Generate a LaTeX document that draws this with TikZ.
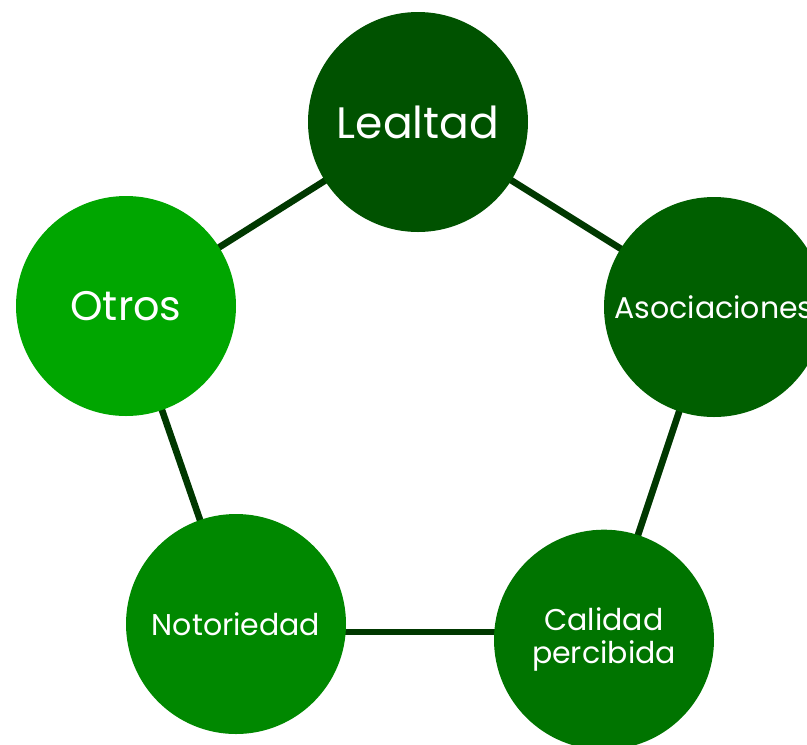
\documentclass[tikz,border=0pt]{standalone}
\usepackage{fontspec}
\setmainfont{Poppins}
\definecolor{lealgreen}{HTML}{005200}
\definecolor{asocgreen}{HTML}{005F00}
\definecolor{calgreen}{HTML}{007400}
\definecolor{notgreen}{HTML}{008800}
\definecolor{otrosgreen}{HTML}{00A600}
\definecolor{linkgreen}{HTML}{003800}
\tikzset{
    every node/.style={transform shape},
    bubble/.style={circle, inner sep=0pt, minimum size=165pt, text=white,
        align=center, font=\fontsize{22.5}{25}\selectfont},
    link/.style={draw=linkgreen, line width=5pt},
}

\begin{document}
\begin{tikzpicture}[x=0.75pt, y=-0.75pt]
                \useasboundingbox (0, 0) rectangle (807, 744);
                \coordinate (lealpos) at (418, 122);
                \coordinate (asocpos) at (714, 307);
                \coordinate (calpos) at (604, 637);
                \coordinate (notpos) at (236, 624);
                \coordinate (otrospos) at (126, 306);
                \coordinate (baseline) at (0, 632);
                \draw[link] (notpos) -- (otrospos) -- (lealpos) -- (asocpos)
                    -- (calpos);
                \draw[link] (notpos |- baseline) -- (calpos |- baseline);
                \node[bubble, fill=lealgreen,
                    font=\fontsize{33}{36}\selectfont] (leal) at (lealpos)
                    {Lealtad};
                \node[bubble, fill=asocgreen] (asoc) at (asocpos)
                    {Asociaciones};
                \node[bubble, fill=calgreen] (cal) at ([yshift=-2pt]calpos)
                    {Calidad\\percibida};
                \node[bubble, fill=notgreen] (not) at (notpos)
                    {Notoriedad};
                \node[bubble, fill=otrosgreen,
                    font=\fontsize{31}{34}\selectfont] (otros) at (otrospos)
                    {Otros};
            \end{tikzpicture}
\end{document}
